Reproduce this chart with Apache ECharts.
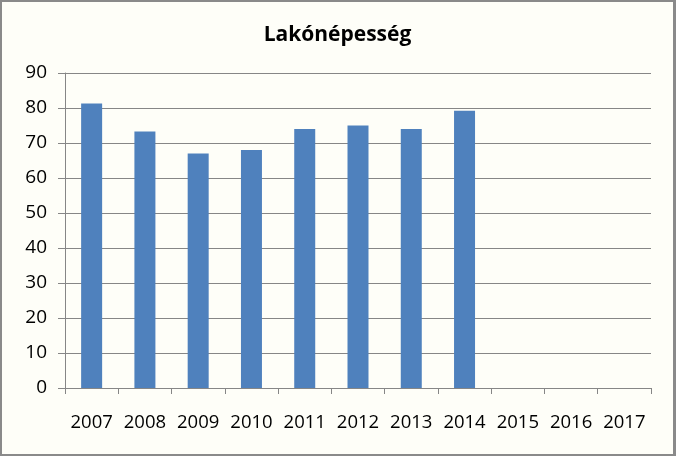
<!DOCTYPE html>
<html>
<head>
<meta charset="utf-8">
<script src="https://cdn.jsdelivr.net/npm/echarts@6/dist/echarts.min.js"></script>
<style>
html,body{margin:0;padding:0;background:#fff;}
#c{width:676px;height:456px;box-sizing:border-box;border:2px solid #8a8a8a;border-right-width:3px;background:#fefef8;}
</style>
</head>
<body>
<div id="c"></div>
<script>
const title = 'Lakónépesség';
const categories = ['2007','2008','2009','2010','2011','2012','2013','2014','2015','2016','2017'];
const values = [81.3, 73.3, 67, 68, 74, 75, 74, 79.2, null, null, null];
const yMin = 0, yMax = 90, yStep = 10;

const chart = echarts.init(document.getElementById('c'), null, {renderer:'canvas'});
chart.setOption({
  backgroundColor: '#fefef8',
  animation: false,
  title: {
    text: title,
    left: 'center',
    top: 18,
    textStyle: {fontFamily: 'Open Sans', fontWeight: 'bold', fontSize: 21, color: '#000'}
  },
  grid: {left: 63, right: 22, top: 71, bottom: 66, containLabel: false},
  xAxis: {
    type: 'category',
    data: categories,
    axisLine: {show: true, lineStyle: {color: '#868686', width: 1}},
    axisTick: {show: true, alignWithLabel: false, length: 6, lineStyle: {color: '#868686'}},
    axisLabel: {fontFamily: 'Open Sans', fontSize: 18.5, color: '#000', margin: 25, interval: 0}
  },
  yAxis: {
    type: 'value',
    min: yMin, max: yMax, interval: yStep,
    axisLine: {show: true, lineStyle: {color: '#868686', width: 1}},
    axisTick: {show: true, length: 7, lineStyle: {color: '#868686'}},
    splitLine: {show: true, lineStyle: {color: '#868686', width: 1}},
    axisLabel: {fontFamily: 'Open Sans', fontSize: 19, color: '#000', margin: 18}
  },
  series: [{
    type: 'bar',
    data: values,
    barWidth: 21,
    itemStyle: {color: '#4f81bd'}
  }]
});
</script>
</body>
</html>
